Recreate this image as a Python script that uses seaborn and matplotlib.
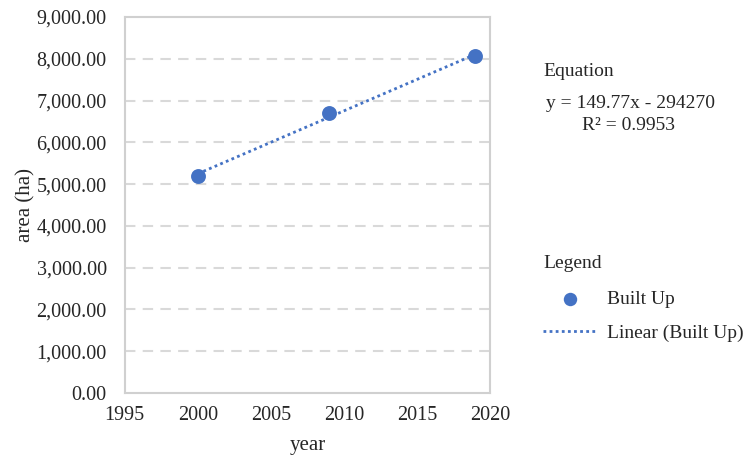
import numpy as np
import pandas as pd
import seaborn as sns
import matplotlib.pyplot as plt

# data
years = [2000, 2009, 2019]
area = [5190, 6710, 8055]
equation = "y = 149.77x - 294270"
r2_text = "R² = 0.9953"

df = pd.DataFrame({"year": years, "area": area})

sns.set_style("white")
plt.rcParams['font.family'] = ['Liberation Serif', 'DejaVu Serif']

blue = "#4472C4"
txt = "#262626"
fig = plt.figure(figsize=(7.47, 4.59), dpi=100)
ax = fig.add_axes([0.167, 0.144, 0.489, 0.819])

sns.regplot(data=df, x="year", y="area", scatter=False, ci=None, truncate=True,
            color=blue, ax=ax,
            line_kws={"linestyle": (0, (1, 1.2)), "linewidth": 2})
trend = ax.lines[-1]
sns.scatterplot(data=df, x="year", y="area", color=blue, s=115, edgecolor=blue,
                linewidth=0, ax=ax, zorder=5)
pts = ax.collections[-1]

ax.set_xlim(1995, 2020)
ax.set_ylim(0, 9000)
ax.set_xticks(range(1995, 2021, 5))
ax.set_yticks(range(0, 9001, 1000))
ax.set_yticklabels([f"{v:,.2f}" for v in range(0, 9001, 1000)])
for v in range(1000, 9000, 1000):
    ax.axhline(v, color="#d9d9d9", linewidth=1.5, linestyle=(0, (5, 3.5)), zorder=0)
for s in ax.spines.values():
    s.set_color("#d0d0d0")
    s.set_linewidth(1.5)
ax.tick_params(axis="both", labelsize=14.5, colors=txt, length=0)
ax.tick_params(axis="y", pad=13)
ax.tick_params(axis="x", pad=9.5)
ax.set_xlabel("year", fontsize=15, color=txt)
ax.set_ylabel("area (ha)", fontsize=15, color=txt)
ax.xaxis.set_label_coords(0.5, -0.115)
ax.yaxis.set_label_coords(-0.245, 0.5)

# equation block
fig.text(543 / 747, 1 - 72 / 459, "Equation", fontsize=14, va="center", ha="left", color=txt)
fig.text(630 / 747, 1 - 104 / 459, equation, fontsize=14, va="center", ha="center", color=txt)
fig.text(629 / 747, 1 - 125 / 459, r2_text, fontsize=14, va="center", ha="center", color=txt)

# legend
fig.text(543 / 747, 1 - 264 / 459, "Legend", fontsize=14, va="center", ha="left", color=txt)
leg = fig.legend([pts, trend], ["Built Up", "Linear (Built Up)"],
                 loc="upper left", bbox_to_anchor=(543 / 747, 1 - 290 / 459),
                 frameon=False, fontsize=14,
                 borderpad=0, borderaxespad=0,
                 handlelength=2.8, handletextpad=0.5, labelspacing=0.85, markerscale=0.9)
for t in leg.get_texts():
    t.set_color(txt)

fig.savefig("out.png", dpi=100)
